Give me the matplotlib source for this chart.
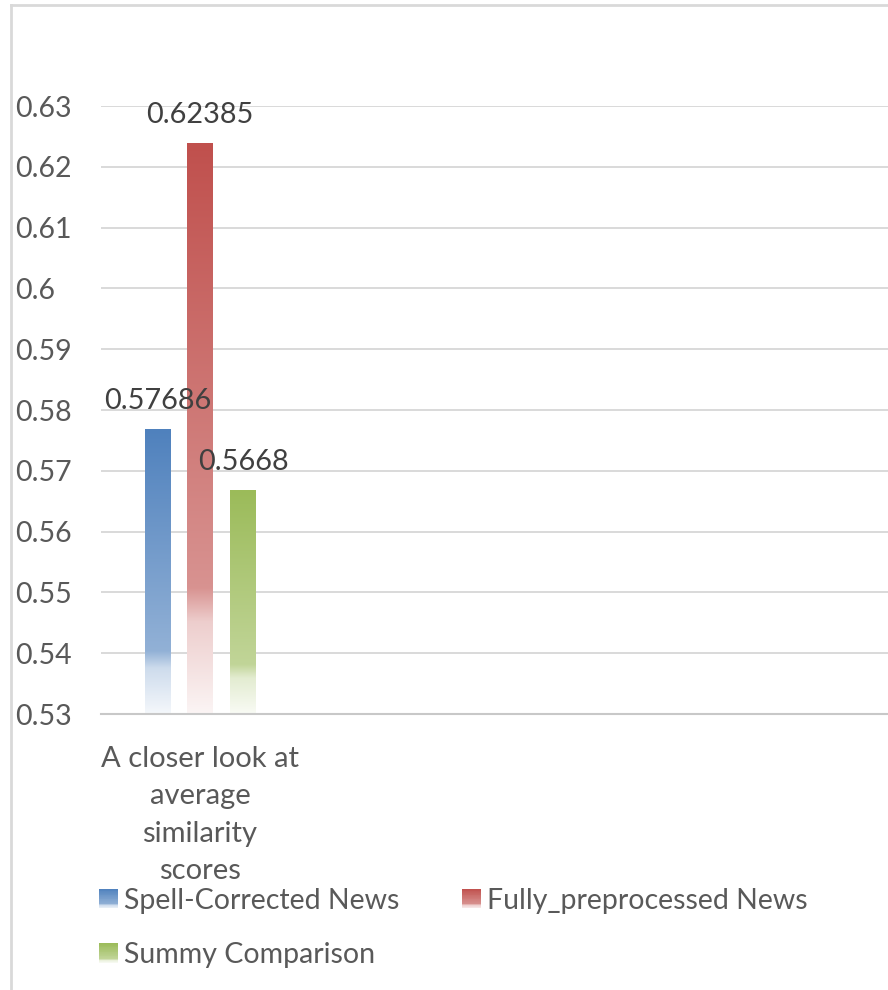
import numpy as np
import matplotlib
matplotlib.use("Agg")
import matplotlib.pyplot as plt
from matplotlib.colors import to_rgb
from matplotlib.patches import Rectangle
from matplotlib.legend_handler import HandlerBase
from matplotlib.lines import Line2D

plt.rcParams["font.family"] = ["Lato", "DejaVu Sans"]

# data
categories = ["A closer look at\naverage\nsimilarity\nscores"]
series_names = ["Spell-Corrected News", "Fully_preprocessed News", "Summy Comparison"]
series_values = [0.57686, 0.62385, 0.5668]
series_colors = ["#4f81bd", "#c0504d", "#9bbb59"]
y_ticks = [0.53, 0.54, 0.55, 0.56, 0.57, 0.58, 0.59, 0.60, 0.61, 0.62, 0.63]
y_tick_labels = ["0.53", "0.54", "0.55", "0.56", "0.57", "0.58", "0.59", "0.6", "0.61", "0.62", "0.63"]

W, H, DPI = 888, 990, 100
TEXT = "#595959"
LABEL = "#404040"
FS = 20.5


def fade(color, t):
    """Colour at relative depth t (0 = top of bar, 1 = bottom), fading to white."""
    w = np.interp(t, [0.0, 0.78, 0.84, 1.0], [0.0, 0.38, 0.72, 0.94])
    c = np.array(to_rgb(color))
    return c[None, :] * (1 - w[:, None]) + w[:, None]


class GradientHandler(HandlerBase):
    def __init__(self, color, steps=24):
        super().__init__()
        self.color = color
        self.steps = steps

    def create_artists(self, legend, orig_handle, xdescent, ydescent,
                       width, height, fontsize, trans):
        side = min(width, height)
        x0 = -xdescent
        y0 = -ydescent + (height - side) / 2
        t = (np.arange(self.steps) + 0.5) / self.steps
        cols = fade(self.color, t)
        dh = side / self.steps
        arts = []
        for i, c in enumerate(cols):
            r = Rectangle((x0, y0 + side - (i + 1) * dh), side, dh * 1.05,
                          facecolor=c, edgecolor="none", transform=trans)
            arts.append(r)
        return arts


fig = plt.figure(figsize=(W / DPI, H / DPI), dpi=DPI)
fig.patch.set_facecolor("white")

# plot area in pixel terms
left_px, right_px, top_px, bottom_px = 101, 888, 106, 714
ax = fig.add_axes([left_px / W, 1 - bottom_px / H,
                   (right_px - left_px) / W, (bottom_px - top_px) / H])

ymin, ymax = 0.53, 0.63
cat_px = 198.0
xmax = -0.5 + (right_px - left_px) / cat_px

offsets = [-0.213, 0.0, 0.217]
bar_w = 0.131
x_cat = np.arange(len(categories))

handles = []
for name, val, col, off in zip(series_names, series_values, series_colors, offsets):
    b = ax.bar(x_cat + off, [val - ymin], bottom=ymin, width=bar_w,
               facecolor="none", edgecolor="none", zorder=3, label=name)
    handles.append(b.patches[0])
    for rect in b:
        x0 = rect.get_x()
        x1 = x0 + rect.get_width()
        y0 = rect.get_y()
        y1 = y0 + rect.get_height()
        t = np.linspace(0, 1, 256)
        img = fade(col, t)[:, None, :]
        ax.imshow(img, extent=(x0, x1, y0, y1), aspect="auto",
                  origin="upper", zorder=2, interpolation="bilinear")
        ax.annotate(str(val), xy=(x0 + rect.get_width() / 2, y1),
                    xytext=(0, 20), textcoords="offset pixels",
                    ha="center", va="baseline", fontsize=FS + 0.3,
                    color=LABEL, annotation_clip=False, zorder=4)

ax.set_xlim(-0.5, xmax)
ax.set_ylim(ymin, ymax)

# grid and axes styling
ax.set_yticks(y_ticks)
ax.set_yticklabels(y_tick_labels)
ax.yaxis.grid(True, color="#d9d9d9", linewidth=1.4, zorder=0)
ax.set_axisbelow(True)
for s in ["top", "right", "left"]:
    ax.spines[s].set_visible(False)
ax.spines["bottom"].set_color("#c8c8c8")
ax.spines["bottom"].set_linewidth(1.5)
ax.tick_params(axis="y", length=0, pad=(left_px - 15) * 72 / DPI,
               labelsize=FS, labelcolor=TEXT)
for lab in ax.get_yticklabels():
    lab.set_horizontalalignment("left")
ax.set_xticks([])

# category label under the axis
for xc, cat in zip(x_cat, categories):
    ax.annotate(cat, xy=(xc, 0), xycoords=("data", "axes fraction"),
                xytext=(0, -32), textcoords="offset pixels",
                ha="center", va="top", fontsize=FS + 0.5, color=TEXT,
                linespacing=1.54, annotation_clip=False)

# legend with gradient swatches, filled row by row
order = [0, 2, 1]
leg_handles = [handles[i] for i in order]
leg_labels = [series_names[i] for i in order]
leg_colors = [series_colors[i] for i in order]
hmap = {h: GradientHandler(c) for h, c in zip(leg_handles, leg_colors)}
leg = fig.legend(leg_handles, leg_labels, handler_map=hmap, ncol=2,
                 loc="upper left", bbox_to_anchor=(93 / W, 1 - 882 / H),
                 frameon=False, fontsize=FS, labelcolor=TEXT,
                 handlelength=0.68, handleheight=0.68, handletextpad=0.2,
                 columnspacing=2.2, labelspacing=1.0, borderpad=0.2,
                 borderaxespad=0)

# chart frame (left and top edges)
fig.add_artist(Line2D([11 / W, 11 / W], [0, 1 - 5 / H], transform=fig.transFigure,
                      color="#d9d9d9", linewidth=2))
fig.add_artist(Line2D([11 / W, 1], [1 - 5 / H, 1 - 5 / H], transform=fig.transFigure,
                      color="#d9d9d9", linewidth=2))

fig.savefig("out.png", dpi=DPI)
